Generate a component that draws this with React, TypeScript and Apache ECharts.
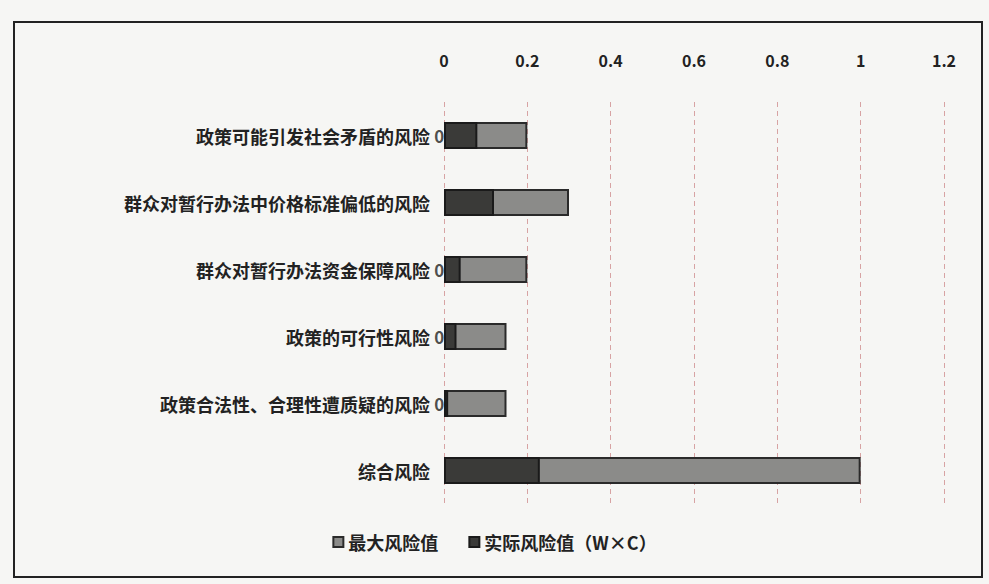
import React, { useEffect, useRef } from "react";
import * as echarts from "echarts";

const categories = [
  "政策可能引发社会矛盾的风险",
  "群众对暂行办法中价格标准偏低的风险",
  "群众对暂行办法资金保障风险",
  "政策的可行性风险",
  "政策合法性、合理性遭质疑的风险",
  "综合风险",
];
const maxRisk = [0.2, 0.3, 0.2, 0.15, 0.15, 1];
const actualRisk = [0.08, 0.12, 0.04, 0.03, 0.01, 0.23];
const labelTexts = ["0.08", null, "0.04", "0.03", "0.01", null];
const xTicks = [0, 0.2, 0.4, 0.6, 0.8, 1, 1.2];

const FONT = "'Noto Sans CJK SC', 'Noto Sans', sans-serif";

export default function App() {
  const ref = useRef<HTMLDivElement>(null);
  useEffect(() => {
    if (!ref.current) return;
    const chart = echarts.init(ref.current, undefined, { renderer: "svg" });
    chart.setOption({
      animation: false,
      backgroundColor: "#f6f6f4",
      textStyle: { fontFamily: FONT },
      graphic: [
        {
          type: "rect",
          shape: { x: 14, y: 22, width: 968, height: 555 },
          style: { fill: "none", stroke: "#222", lineWidth: 2 },
          silent: true,
        },
      ],
      grid: { left: 444, right: 45, top: 102, height: 402, containLabel: false },
      xAxis: {
        type: "value",
        position: "top",
        min: xTicks[0],
        max: xTicks[xTicks.length - 1],
        interval: 0.2,
        axisLine: { show: false },
        axisTick: { show: false },
        axisLabel: {
          margin: 34,
          color: "#222",
          fontWeight: "bold",
          fontSize: 16,
          fontFamily: FONT,
        },
        splitLine: {
          show: true,
          lineStyle: { color: "#d7a3a3", type: [5, 4], width: 1 },
        },
      },
      yAxis: {
        type: "category",
        inverse: true,
        data: categories,
        axisLine: { show: false },
        axisTick: { show: false },
        axisLabel: {
          margin: 14,
          color: "#222",
          fontWeight: "bold",
          fontSize: 18,
          fontFamily: FONT,
        },
      },
      legend: {
        bottom: 28,
        left: "center",
        itemWidth: 10,
        itemHeight: 10,
        itemGap: 30,
        textStyle: { color: "#222", fontWeight: "bold", fontSize: 18, fontFamily: FONT },
        data: [
          { name: "最大风险值", icon: "rect" },
          { name: "实际风险值（W×C）", icon: "rect" },
        ],
      },
      series: [
        {
          type: "scatter",
          z: 0,
          symbolSize: 0,
          silent: true,
          data: labelTexts.map((t, i) => (t === null ? null : [0, i])),
          label: {
            show: true,
            position: "inside",
            offset: [8, 0],
            color: "#222",
            fontWeight: "bold",
            fontSize: 17,
            fontFamily: FONT,
            formatter: (p: any) => labelTexts[p.dataIndex] ?? "",
          },
        },
        {
          name: "最大风险值",
          type: "bar",
          z: 3,
          data: maxRisk,
          barWidth: 27,
          barGap: "-100%",
          itemStyle: { color: "#8b8b89", borderColor: "#2a2a2a", borderWidth: 2 },
        },
        {
          name: "实际风险值（W×C）",
          type: "bar",
          z: 4,
          data: actualRisk,
          barWidth: 27,
          barGap: "-100%",
          itemStyle: { color: "#3a3a38", borderColor: "#1a1a1a", borderWidth: 2 },
        },
      ],
    });
    return () => chart.dispose();
  }, []);
  return (
    <div
      ref={ref}
      style={{ position: "absolute", left: 0, top: 0, width: 989, height: 584 }}
    />
  );
}
